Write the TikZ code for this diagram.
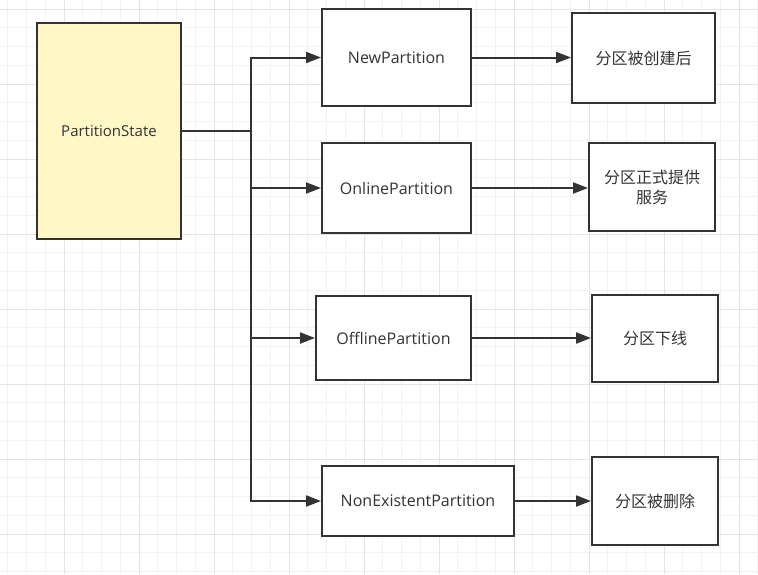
\documentclass[tikz,border=0pt]{standalone}
\usepackage{fontspec}
\setmainfont{Open Sans}
\newfontfamily\cjk{Noto Sans CJK SC}
\usetikzlibrary{arrows.meta}
\definecolor{ink}{HTML}{333333}
\definecolor{psfill}{HTML}{FFF8C6}
\definecolor{gridminor}{HTML}{F2F2F2}
\definecolor{gridmajor}{HTML}{E4E4E4}
\tikzset{
  box/.style={draw=ink, line width=2pt, fill=white, text=ink, inner sep=0pt, align=center, font=\fontsize{16}{20}\selectfont},
  cnbox/.style={box, font=\cjk\fontsize{16}{20}\selectfont},
  link/.style={draw=ink, line width=2pt, -{Triangle[length=15pt,width=11pt]}},
}
\begin{document}
\begin{tikzpicture}[x=1pt,y=-1pt]
\useasboundingbox (0,0) rectangle (758,574);
\fill[white] (0,0) rectangle (758,574);
% grid
\foreach \i in {0,...,40} \draw[gridminor, line width=1pt] ({7.75+18.75*\i},0) -- ({7.75+18.75*\i},574);
\foreach \i in {0,...,30} \draw[gridminor, line width=1pt] (0,{9+18.75*\i}) -- (758,{9+18.75*\i});
\foreach \i in {0,...,9} \draw[gridmajor, line width=1pt] ({64+75*\i},0) -- ({64+75*\i},574);
\foreach \i in {0,...,7} \draw[gridmajor, line width=1pt] (0,{9+75*\i}) -- (758,{9+75*\i});
% nodes
\node[box, fill=psfill, minimum width=144pt, minimum height=216pt, font=\fontsize{15}{18}\selectfont] (ps) at (109,131) {PartitionState};
\node[box, minimum width=149pt, minimum height=97pt] (np) at (396.5,57.5) {NewPartition};
\node[box, minimum width=149pt, minimum height=90pt] (op) at (396.5,188) {OnlinePartition};
\node[box, minimum width=155pt, minimum height=84pt] (off) at (393.5,338) {OfflinePartition};
\node[box, minimum width=192pt, minimum height=70pt] (ne) at (418,501) {NonExistentPartition};
\node[cnbox, minimum width=143pt, minimum height=90pt] (t1) at (643.5,58) {分区被创建后};
\node[cnbox, minimum width=126pt, minimum height=88pt] (t2) at (652,187) {分区正式提供\\服务};
\node[cnbox, minimum width=126pt, minimum height=87pt] (t3) at (655,338.5) {分区下线};
\node[cnbox, minimum width=126pt, minimum height=88pt] (t4) at (655,501) {分区被删除};
\coordinate (j) at (251,131);
% connectors
\draw[link] (ps.east) -- (j) |- (np.west);
\draw[link] (ps.east) -- (j) |- (op.west);
\draw[link] (ps.east) -- (j) |- (off.west);
\draw[link] (ps.east) -- (j) |- (ne.west);
\draw[link] (np.east) -- (np.east -| t1.west);
\draw[link] (op.east) -- (op.east -| t2.west);
\draw[link] (off.east) -- (off.east -| t3.west);
\draw[link] (ne.east) -- (ne.east -| t4.west);
\end{tikzpicture}
\end{document}
